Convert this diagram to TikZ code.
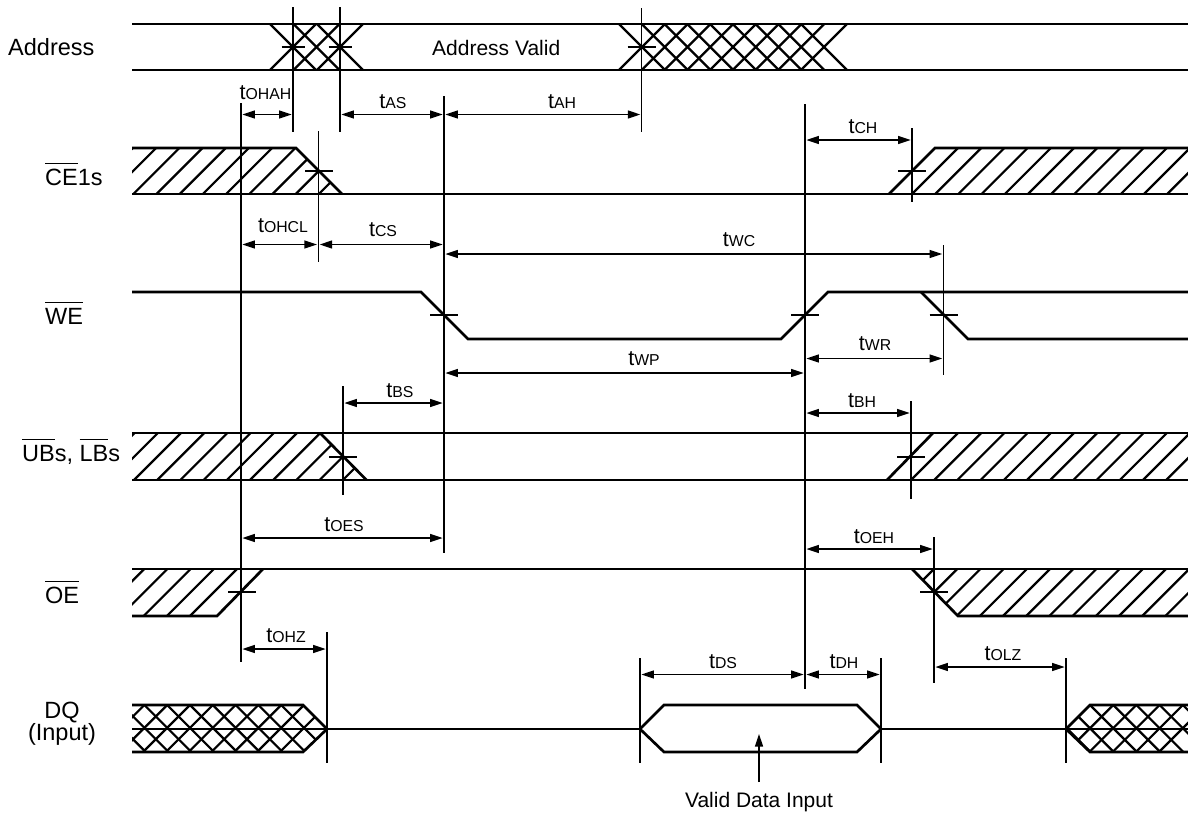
\documentclass[tikz,border=0pt]{standalone}
\usepackage{fontspec}
\setmainfont{Liberation Sans}
\usetikzlibrary{arrows.meta}
\tikzset{
  sig/.style={line width=2.7pt,line join=miter,line cap=butt},
  hat/.style={line width=2.2pt},
  vline/.style={line width=1.35pt},
  tick/.style={line width=1.2pt},
  dim/.style={line width=1.3pt,{Triangle[length=12.5pt,width=8pt]}-{Triangle[length=12.5pt,width=8pt]},shorten <=1.4pt,shorten >=1.4pt},
  tl/.style={inner sep=0pt,anchor=base},
  lab/.style={inner sep=0pt,anchor=base west},
  labc/.style={inner sep=0pt,anchor=base},
}
\newcommand{\ovl}[1]{\setbox0=\hbox{#1}\rlap{\raisebox{21pt}{\rule{\wd0}{1.3pt}}}\box0\relax}
\newcommand{\bigfont}{\fontsize{23.5}{23.5}\selectfont}
\newcommand{\midfont}{\fontsize{21}{21}\selectfont}
% name, subscript text, x, baseline y
\newcommand{\tlab}[4]{\node[tl] (#1) at (#3,#4) {\fontsize{21.5}{21.5}\selectfont t\fontsize{15.8}{15.8}\selectfont #2};}
% name, x1, x2, y
\newcommand{\dimline}[4]{\coordinate (#1a) at (#2,#4);\coordinate (#1b) at (#3,#4);\draw[dim] (#1a) -- (#1b);}
% x, y1, y2
\newcommand{\vl}[3]{\draw[vline] (#1,#2) -- (#1,#3);}
% x, y, half width
\newcommand{\tk}[3]{\draw[tick] ({#1-#3},#2) -- ({#1+#3},#2);}
% clip polygon, ybottom, height, xbottom start, first index, last index : "/" hatching
\newcommand{\hatchf}[6]{\begin{scope}\clip #1;
  \foreach \k in {#5,...,#6}{\draw[hat] ({#4+23.2*\k},#2) -- ({#4+23.2*\k+#3},{#2-#3});}
\end{scope}}
% clip polygon, ytop, height, xtop start, last index, step : both directions
\newcommand{\hatchx}[6]{\begin{scope}\clip #1;
  \foreach \k in {-3,...,#5}{
    \draw[hat] ({#4+#6*\k},#2) -- ({#4+#6*\k+#3},{#2+#3});
    \draw[hat] ({#4+#6*\k},#2) -- ({#4+#6*\k-#3},{#2+#3});}
\end{scope}}
% address crossing: left x, last index, step
\newcommand{\addrx}[3]{\foreach \k in {0,...,#2}{
    \draw[hat] ({#1+#3*\k},24) -- ({#1+#3*\k+46},70);
    \draw[hat] ({#1+#3*\k},70) -- ({#1+#3*\k+46},24);}}
\begin{document}
\begin{tikzpicture}[x=1pt,y=-1pt]
\useasboundingbox (0,0) rectangle (1188,814);
\fill[white] (0,0) rectangle (1188,814);

% Address
\draw[sig] (132,24) -- (1188,24);
\draw[sig] (132,70) -- (1188,70);
\addrx{270}{2}{23.5}
\addrx{619}{8}{22.75}

% CE1s
\hatchf{(132,148)--(296,148)--(342,194)--(132,194)--cycle}{194}{46}{133.3}{-2}{9}
\draw[sig] (132,148) -- (296,148) -- (342,194);
\draw[sig] (132,194) -- (1188,194);
\hatchf{(889,194)--(935,148)--(1188,148)--(1188,194)--cycle}{194}{46}{912}{0}{13}
\draw[sig] (889,194) -- (935,148) -- (1188,148);

% WE
\draw[sig] (132,292) -- (421,292) -- (468,339) -- (781,339) -- (828,292) -- (1188,292);
\draw[sig] (921,292) -- (968,339) -- (1188,339);

% UBs, LBs
\hatchf{(132,433)--(320,433)--(366.5,480)--(132,480)--cycle}{480}{47}{134}{-2}{9}
\draw[sig] (132,433) -- (1188,433);
\draw[sig] (132,480) -- (1188,480);
\draw[sig] (320,433) -- (366.5,480);
\hatchf{(887,480)--(933,433)--(1188,433)--(1188,480)--cycle}{480}{47}{911}{0}{13}
\draw[sig] (887,480) -- (933,433);

% OE
\hatchf{(132,569)--(263,569)--(217,616)--(132,616)--cycle}{616}{47}{190}{-4}{0}
\draw[sig] (132,569) -- (1188,569);
\draw[sig] (132,616) -- (217,616) -- (263,569);
\hatchf{(912,569)--(958,616)--(1188,616)--(1188,569)--cycle}{616}{47}{887}{0}{16}
\draw[sig] (912,569) -- (958,616) -- (1188,616);

% DQ
\hatchx{(132,705)--(303,705)--(327,729)--(303,752)--(132,752)--cycle}{705}{47}{144.4}{8}{22.8}
\draw[sig] (132,705) -- (303,705) -- (327,729) -- (303,752) -- (132,752);
\draw[sig] (132,729) -- (640,729);
\draw[sig] (640,729) -- (664,705) -- (857,705) -- (881,729) -- (857,752) -- (664,752) -- cycle;
\draw[sig] (881,729) -- (1188,729);
\hatchx{(1066,729)--(1090,705)--(1188,705)--(1188,752)--(1090,752)--cycle}{705}{47}{1090}{5}{23.2}
\draw[sig] (1066,729) -- (1090,705) -- (1188,705);
\draw[sig] (1066,729) -- (1090,752) -- (1188,752);

% vertical reference lines
\vl{293}{7}{132}
\vl{340}{7}{132}
\vl{641.7}{8}{132}
\vl{444}{96}{553}
\vl{241}{103}{662}
\vl{318.3}{131}{262}
\vl{805}{104}{689}
\vl{912}{128}{202}
\vl{943.5}{245}{375}
\vl{343}{386}{495}
\vl{911}{401}{499}
\vl{934}{537}{683}
\vl{327}{632}{763}
\vl{640}{658}{763}
\vl{881}{658}{763}
\vl{1066}{658}{763}

% ticks
\tk{293}{47}{11.5}
\tk{340}{47}{11.5}
\tk{641.7}{47}{14}
\tk{319}{171}{14}
\tk{912}{171}{14}
\tk{444}{315}{14}
\tk{805}{315}{14}
\tk{943.5}{315}{14}
\tk{343}{457}{14}
\tk{911}{457}{14}
\tk{242}{592}{14}
\tk{934}{592}{14}

% dimension arrows
\dimline{ohah}{241}{293}{114.5}
\dimline{as}{340}{444}{114.5}
\dimline{ah}{444}{641.7}{114.5}
\dimline{ch}{805}{912}{140}
\dimline{ohcl}{241}{318.3}{244.5}
\dimline{cs}{318.3}{444}{244.5}
\dimline{wc}{444}{943.5}{254}
\dimline{wr}{805}{943.5}{358.5}
\dimline{wp}{444}{805}{373}
\dimline{bs}{343}{444}{403}
\dimline{bh}{805}{911}{413}
\dimline{oes}{241}{444}{538}
\dimline{oeh}{805}{934}{549}
\dimline{ohz}{241}{327}{649}
\dimline{ds}{640}{805}{674.5}
\dimline{dh}{805}{881}{674.5}
\dimline{olz}{934}{1066}{667}

% timing labels
\tlab{Tohah}{OHAH}{265.5}{99}
\tlab{Tas}{AS}{393}{108}
\tlab{Tah}{AH}{562}{108}
\tlab{Tch}{CH}{863}{133}
\tlab{Tohcl}{OHCL}{283}{232}
\tlab{Tcs}{CS}{383}{236}
\tlab{Twc}{WC}{739}{246}
\tlab{Twr}{WR}{875}{350}
\tlab{Twp}{WP}{644}{365}
\tlab{Tbs}{BS}{400}{397}
\tlab{Tbh}{BH}{862}{407}
\tlab{Toes}{OES}{344}{531}
\tlab{Toeh}{OEH}{874}{543}
\tlab{Tohz}{OHZ}{286}{642}
\tlab{Tds}{DS}{723}{668}
\tlab{Tdh}{DH}{844}{668}
\tlab{Tolz}{OLZ}{1003}{660}

% signal names
\node[lab] (Laddr) at (8,55) {\bigfont Address};
\node[lab] (Lvalid) at (432,55) {\midfont Address Valid};
\node[lab] (Lce) at (45,185) {\bigfont\ovl{CE}1s};
\node[lab] (Lwe) at (45,324) {\bigfont\ovl{WE}};
\node[lab] (Lub) at (22,461) {\bigfont\ovl{UB}s, \ovl{LB}s};
\node[lab] (Loe) at (45,603) {\bigfont\ovl{OE}};
\node[labc] (Ldq) at (62,718) {\bigfont DQ};
\node[labc] (Linp) at (62,740) {\bigfont (Input)};
\node[labc] (Ldata) at (759,807) {\midfont Valid Data Input};
\coordinate (datatail) at (759,782);
\coordinate (datatip) at (759,734);
\draw[line width=1.3pt,-{Triangle[length=12.5pt,width=8pt]}] (datatail) -- (datatip);
\end{tikzpicture}
\end{document}
